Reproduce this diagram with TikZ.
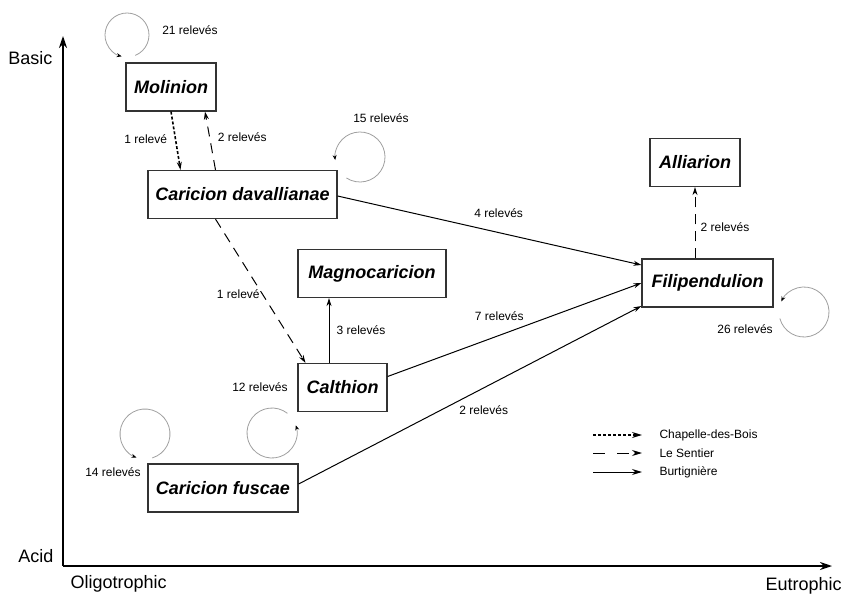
\documentclass[tikz,border=0pt]{standalone}
\usepackage{fontspec}
\setmainfont{Liberation Sans}
\usetikzlibrary{arrows.meta,positioning,calc}

\begin{document}
\begin{tikzpicture}[
    x=1pt, y=1pt,
    >={Stealth[length=8pt,width=5pt]},
    alliance/.style={rectangle, draw=black!80, line width=1.2pt, minimum height=48pt,
        font=\fontsize{18}{20}\selectfont\bfseries\itshape},
    burt/.style={->, line width=1pt},
    sentier/.style={->, line width=1pt, dash pattern=on 10pt off 7pt},
    chapelle/.style={->, line width=1.6pt, dash pattern=on 3pt off 2pt},
    count/.style={font=\fontsize{12}{14}\selectfont},
    selfloop/.style={-{Stealth[length=5pt,width=4pt,black]}, gray!75, line width=0.8pt},
    axis/.style={->, line width=1.5pt, >={Stealth[length=12pt,width=8pt]}},
    axislabel/.style={font=\fontsize{18}{20}\selectfont}
]
\useasboundingbox (0,0) rectangle (853,-594);

% Axes
\coordinate (origin) at (63,-566);
\coordinate (y_top) at (63,-36);
\coordinate (x_end) at (832,-566);
\draw[axis] (origin) -- (y_top);
\draw[axis] (origin) -- (x_end);
\node[axislabel, anchor=east] (basic) at (56,-58) {Basic};
\node[axislabel, anchor=east] (acid) at (57,-556) {Acid};
\node[axislabel, anchor=west] (oligo) at (67,-584) {Oligotrophic};
\node[axislabel, anchor=west] (eutro) at (762,-586) {Eutrophic};

% Alliances
\node[alliance, minimum width=90pt] (molinion) at (171,-87) {Molinion};
\node[alliance, minimum width=189pt] (davallianae) at (242.5,-194.5) {Caricion davallianae};
\node[alliance, minimum width=148pt] (magnocaricion) at (372,-273.5) {Magnocaricion};
\node[alliance, minimum width=89pt] (calthion) at (342.5,-387.5) {Calthion};
\node[alliance, minimum width=150pt] (fuscae) at (223,-488) {Caricion fuscae};
\node[alliance, minimum width=131pt] (filipendulion) at (707.5,-283) {Filipendulion};
\node[alliance, minimum width=90pt] (alliarion) at (695,-162.5) {Alliarion};

% Chapelle-des-Bois
\draw[chapelle] (molinion.south) -- ([xshift=-62pt]davallianae.north)
    node[midway, xshift=-30pt, yshift=2pt, count] {1 relevé};

% Le Sentier
\draw[sentier] ([xshift=-27pt]davallianae.north) -- ([xshift=34pt]molinion.south)
    node[midway, xshift=32pt, yshift=4pt, count] {2 relevés};
\draw[sentier] ([xshift=-27pt]davallianae.south) -- ([xshift=-37pt]calthion.north)
    node[pos=.52, xshift=-24pt, count] {1 relevé};
\draw[sentier] ([xshift=-12.5pt]filipendulion.north) -- (alliarion.south)
    node[midway, xshift=30pt, yshift=-4pt, count] {2 relevés};

% Burtigniere
\draw[burt] ([xshift=-13.5pt]calthion.north) -- ([xshift=-43pt]magnocaricion.south)
    node[midway, xshift=32pt, count] {3 relevés};
\draw[burt] ([yshift=-1.5pt]davallianae.east) -- ([yshift=18pt]filipendulion.west)
    node[pos=.53, yshift=19pt, count] {4 relevés};
\draw[burt] ([yshift=11pt]calthion.east) -- (filipendulion.west)
    node[pos=.44, yshift=19pt, count] {7 relevés};
\draw[burt] ([yshift=4pt]fuscae.east) -- ([yshift=-23pt]filipendulion.west)
    node[pos=.54, yshift=-22pt, count] {2 relevés};

% Self loops
\coordinate (loop_molinion) at (127,-35);
\coordinate (loop_davallianae) at (360,-157);
\coordinate (loop_calthion) at (272,-433);
\coordinate (loop_fuscae) at (145,-434);
\coordinate (loop_filipendulion) at (804,-312);
\draw[selfloop] ([shift={(292:22)}]loop_molinion) arc[start angle=292, end angle=616, radius=22];
\draw[selfloop] ([shift={(237:25)}]loop_davallianae) arc[start angle=237, end angle=547, radius=25];
\draw[selfloop] ([shift={(52:25)}]loop_calthion) arc[start angle=52, end angle=378, radius=25];
\draw[selfloop] ([shift={(287:25)}]loop_fuscae) arc[start angle=287, end angle=610, radius=25];
\draw[selfloop] ([shift={(195:25)}]loop_filipendulion) arc[start angle=195, end angle=515, radius=25];
\node[count] (n_molinion) at (190,-30) {21 relevés};
\node[count] (n_davallianae) at (381,-118) {15 relevés};
\node[count] (n_calthion) at (260,-387) {12 relevés};
\node[count] (n_fuscae) at (113,-472) {14 relevés};
\node[count] (n_filipendulion) at (745,-329) {26 relevés};

% Legend
\node[count, anchor=west] (leg_chapelle) at (656,-435) {Chapelle-des-Bois};
\node[count, anchor=west] (leg_sentier) at (656,-453) {Le Sentier};
\node[count, anchor=west] (leg_burt) at (656,-472) {Burtignière};
\draw[chapelle, line width=1.4pt, >={Stealth[length=10pt,width=6pt]}]
    ([xshift=-63pt]leg_chapelle.west) -- ([xshift=-14pt]leg_chapelle.west);
\draw[sentier, dash pattern=on 12pt off 12pt, >={Stealth[length=10pt,width=6pt]}]
    ([xshift=-63pt]leg_sentier.west) -- ([xshift=-14pt]leg_sentier.west);
\draw[burt, >={Stealth[length=10pt,width=6pt]}]
    ([xshift=-63pt]leg_burt.west) -- ([xshift=-14pt]leg_burt.west);

\end{tikzpicture}
\end{document}
